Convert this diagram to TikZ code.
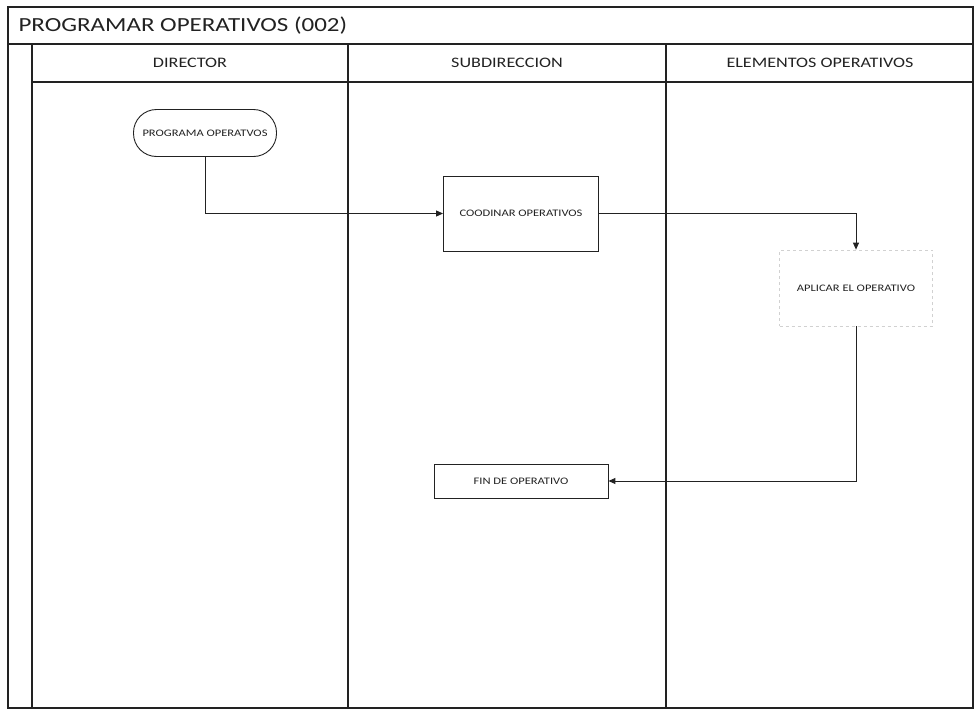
\documentclass[tikz,border=0pt]{standalone}
\usepackage{fontspec}
\setmainfont{Carlito}[FakeStretch=1.25]
\usetikzlibrary{arrows.meta}
\definecolor{ink}{HTML}{222222}
\begin{document}
\begin{tikzpicture}[x=1pt,y=-1pt,
  frame/.style={draw=ink,line width=1.1pt},
  lanehead/.style={font=\fontsize{14.5}{16}\selectfont,text=ink,anchor=center},
  proc/.style={draw=ink,line width=0.9pt,fill=white,font=\fontsize{10}{12}\selectfont,text=ink,inner sep=0pt},
  startbox/.style={proc,rounded corners=23pt},
  faintbox/.style={draw=black!18,dashed,line width=0.7pt,fill=white,font=\fontsize{10}{12}\selectfont,text=ink,inner sep=0pt},
  flow/.style={draw=ink,line width=1pt,-{Triangle[length=7pt,width=6pt]}}
]
\useasboundingbox (0,0) rectangle (975,712);
% frame
\draw[frame] (8,7) rectangle (973,708);
\draw[frame] (8,44) -- (973,44);
\draw[frame] (32,44) -- (32,708);
\draw[frame] (32,82) -- (973,82);
\draw[frame] (348,44) -- (348,708);
\draw[frame] (666,44) -- (666,708);
% title and lanes
\node[anchor=west,font=\fontsize{20}{22}\selectfont,text=ink] (title) at (15,26) {PROGRAMAR OPERATIVOS (002)};
\node[lanehead] (l1) at (190,63) {DIRECTOR};
\node[lanehead] (l2) at (507,63) {SUBDIRECCION};
\node[lanehead] (l3) at (820,63) {ELEMENTOS OPERATIVOS};
% nodes
\node[startbox,minimum width=143pt,minimum height=47pt] (start) at (205,133) {PROGRAMA OPERATVOS};
\node[proc,minimum width=155pt,minimum height=75pt] (coord) at (521,213.5) {COODINAR OPERATIVOS};
\node[faintbox,minimum width=153pt,minimum height=76pt] (aplic) at (856,288) {APLICAR EL OPERATIVO};
\node[proc,minimum width=174pt,minimum height=34pt] (fin) at (521,481) {FIN DE OPERATIVO};
% connectors
\draw[flow] (start.south) |- (coord.west);
\draw[flow] (coord.east) -| (aplic.north);
\draw[flow] (aplic.south) |- (fin.east);
\end{tikzpicture}
\end{document}
